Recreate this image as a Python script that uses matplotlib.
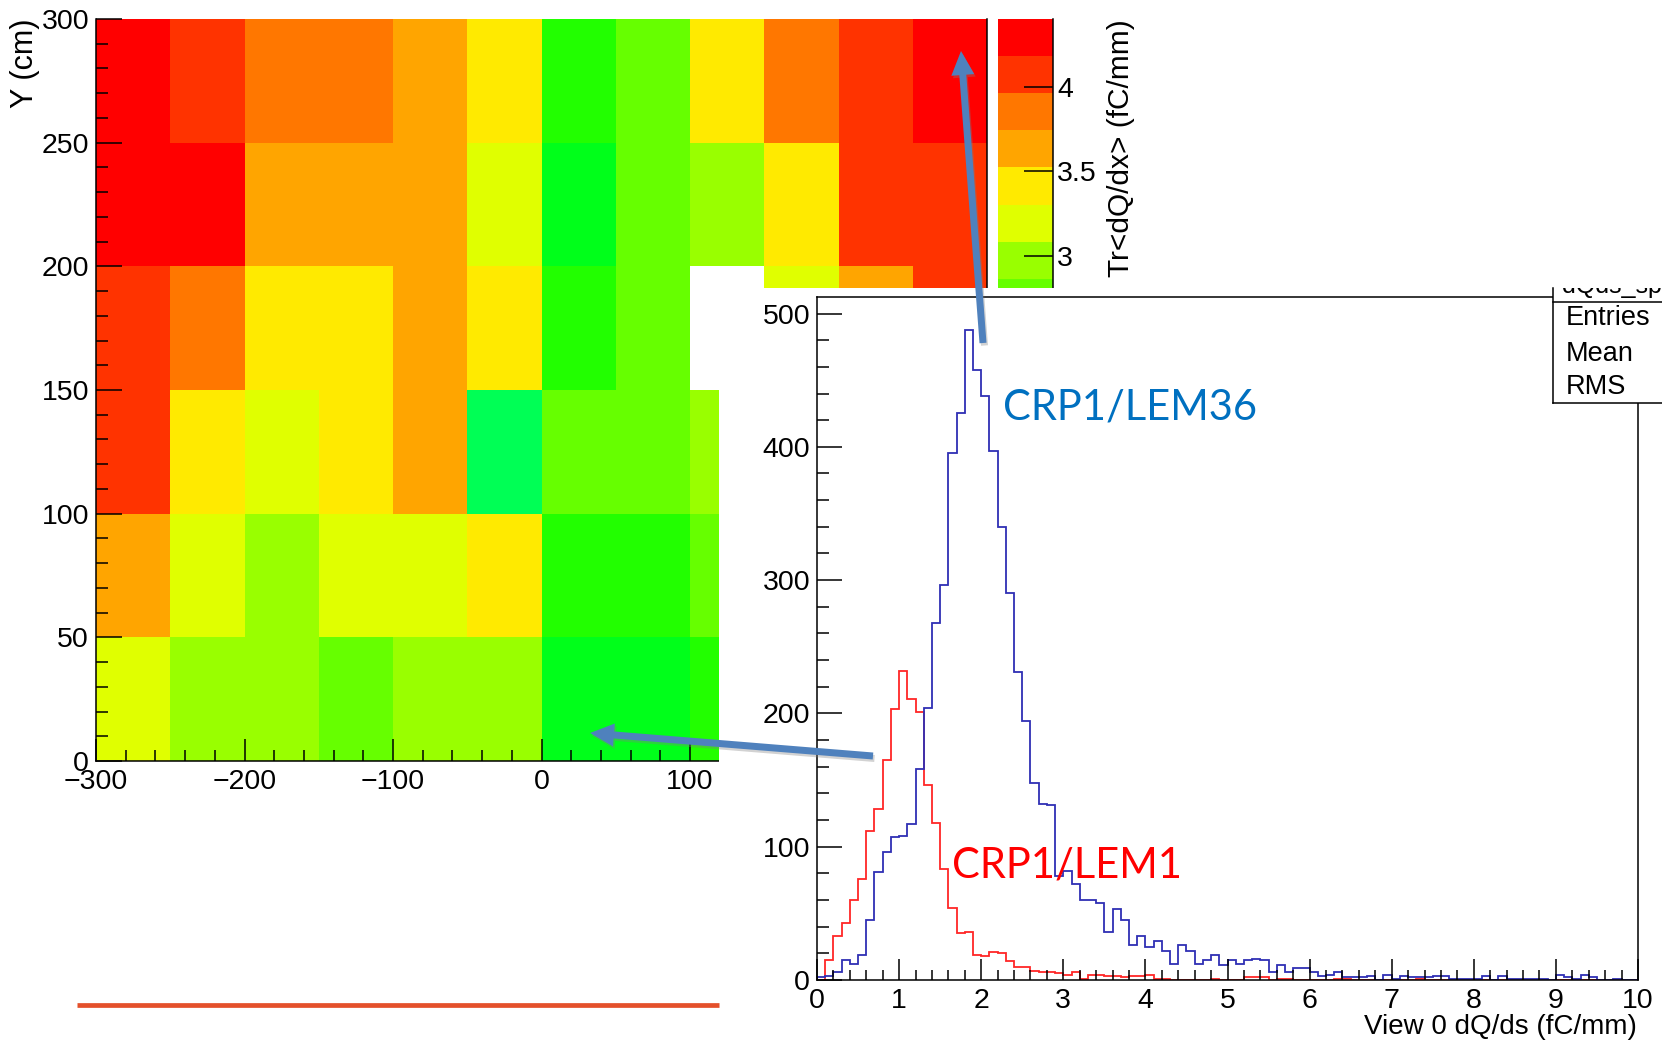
import numpy as np
import matplotlib
matplotlib.use("Agg")
import matplotlib.pyplot as plt
from matplotlib.colors import ListedColormap, BoundaryNorm
from matplotlib.patches import FancyArrow, Rectangle
from matplotlib.ticker import MultipleLocator, FuncFormatter

plt.rcParams["font.family"] = ["Liberation Sans", "DejaVu Sans"]
plt.rcParams["axes.unicode_minus"] = True

W, H = 1662, 1041

# ---------------- 2D map: truncated mean dQ/dx per 50 cm x 50 cm cell ----------------
x_edges = [-300, -250, -200, -150, -100, -50, 0, 50, 100, 150, 200, 250, 300]
y_edges = [0, 50, 100, 150, 200, 250, 300]
nan = np.nan
row_y0_50 = [3.19, 2.97, 2.97, 2.75, 2.97, 2.97, 2.31, 2.31, 2.53, nan, nan, nan]
row_y50_100 = [3.63, 3.19, 2.97, 3.19, 3.19, 3.41, 2.53, 2.53, 2.75, nan, nan, nan]
row_y100_150 = [4.07, 3.41, 3.19, 3.41, 3.63, 2.09, 2.75, 2.75, 2.97, nan, nan, nan]
row_y150_200 = [4.07, 3.85, 3.41, 3.41, 3.63, 3.41, 2.53, 2.75, nan, 3.19, 3.63, 4.07]
row_y200_250 = [4.30, 4.30, 3.63, 3.63, 3.63, 3.19, 2.31, 2.75, 2.97, 3.41, 4.07, 4.07]
row_y250_300 = [4.30, 4.07, 3.85, 3.85, 3.63, 3.41, 2.53, 2.75, 3.41, 3.85, 4.07, 4.30]

z_min, z_max = 0.0, 4.405
n_contours = 20
band_colors = ["#8000ff", "#5a00ff", "#2a00ff", "#0030ff", "#0070ff",
               "#00b0ff", "#00e8ff", "#00ffc8", "#00ff90", "#00ff55",
               "#00ff1a", "#22ff00", "#66ff00", "#99ff00", "#e0ff00",
               "#ffea00", "#ffa500", "#ff7700", "#ff3300", "#ff0000"]
cbar_ticks = [0, 0.5, 1, 1.5, 2, 2.5, 3, 3.5, 4]

# ---------------- 1D spectra: dQ/ds, 100 bins over 0..10 fC/mm ----------------
hist_range = (0.0, 10.0)
n_bins = 100
counts_lem1 = [0, 15, 33, 43, 60, 76, 112, 128, 165, 203,
               232, 211, 201, 146, 118, 83, 54, 35, 36, 19,
               18, 21, 20, 14, 10, 10, 7, 6, 6, 5,
               4, 6, 1, 4, 4, 3, 3, 2, 3, 3,
               4, 1, 1, 0, 0, 0, 0, 0, 1, 0,
               0, 0, 2, 2, 2, 0, 1, 1, 0, 0,
               0, 0, 0, 1, 1, 0, 0, 0, 0, 0,
               0, 0, 0, 1, 0, 0, 0, 0, 0, 0,
               0, 0, 0, 0, 0, 0, 0, 0, 0, 0,
               0, 0, 0, 0, 0, 0, 0, 0, 0, 0]
counts_lem36 = [2, 3, 6, 15, 12, 19, 45, 81, 96, 107,
                108, 117, 158, 204, 268, 296, 395, 425, 488, 458,
                438, 397, 340, 290, 231, 194, 148, 132, 131, 78,
                82, 72, 60, 60, 58, 36, 53, 45, 26, 33,
                25, 29, 22, 12, 26, 22, 12, 15, 19, 11,
                15, 12, 15, 16, 15, 6, 11, 6, 9, 9,
                6, 3, 4, 6, 2, 2, 2, 3, 0, 4,
                1, 3, 2, 2, 2, 3, 3, 1, 1, 1,
                1, 3, 0, 3, 1, 1, 1, 1, 1, 0,
                4, 2, 1, 4, 2, 0, 0, 1, 0, 0]
stat_names = ["Entries", "Mean", "RMS"]


def frac(left, top, right, bottom):
    """Pixel box (top-left origin) -> figure fraction rect."""
    return [left / W, 1 - bottom / H, (right - left) / W, (bottom - top) / H]


fig = plt.figure(figsize=(W / 100, H / 100), dpi=100)

levels = np.linspace(z_min, z_max, n_contours + 1)
cmap = ListedColormap(band_colors)
norm = BoundaryNorm(levels, cmap.N)

TICK_FS = 20.5

# ---- map ----
ax_map = fig.add_axes(frac(96, 19, 987, 761))
dqdx_map = np.array([row_y0_50, row_y50_100, row_y100_150,
                     row_y150_200, row_y200_250, row_y250_300])
ax_map.pcolormesh(x_edges, y_edges, np.ma.masked_invalid(dqdx_map),
                  cmap=cmap, norm=norm)
ax_map.set_xlim(x_edges[0], x_edges[-1])
ax_map.set_ylim(y_edges[0], y_edges[-1])
ax_map.xaxis.set_major_locator(MultipleLocator(100))
ax_map.xaxis.set_minor_locator(MultipleLocator(20))
ax_map.yaxis.set_major_locator(MultipleLocator(50))
ax_map.yaxis.set_minor_locator(MultipleLocator(10))
ax_map.tick_params(axis="x", which="major", direction="in", length=16,
                   width=1.1, labelsize=TICK_FS, pad=6)
ax_map.tick_params(axis="x", which="minor", direction="in", length=8, width=1.1)
ax_map.tick_params(axis="y", which="major", direction="in", length=18.5,
                   width=1.1, labelsize=TICK_FS, pad=5)
ax_map.tick_params(axis="y", which="minor", direction="in", length=8.5, width=1.1)
ax_map.spines["top"].set_visible(False)
for s in ("left", "bottom", "right"):
    ax_map.spines[s].set_linewidth(1.1)

# ---- palette axis ----
cax = fig.add_axes(frac(998, 19, 1053, 761))
band_mid = 0.5 * (levels[:-1] + levels[1:])
cax.pcolormesh([0, 1], levels, band_mid[:, None], cmap=cmap, norm=norm)
cax.set_xlim(0, 1)
cax.set_ylim(z_min, z_max)
cax.set_xticks([])
cax.yaxis.tick_right()
cax.set_yticks(cbar_ticks)
cax.yaxis.set_major_formatter(FuncFormatter(lambda v, p: f"{v:g}"))
cax.tick_params(axis="y", direction="in", length=21, width=1.1,
                labelsize=TICK_FS, pad=3)
for s in ("left", "top", "bottom"):
    cax.spines[s].set_visible(False)
cax.spines["right"].set_linewidth(1.1)

# ---- inset pad with the spectra ----
pad = fig.add_axes(frac(719, 288, 1700, 1041), zorder=3)
pad.set_facecolor("white")
pad.set_xticks([])
pad.set_yticks([])
for s in pad.spines.values():
    s.set_visible(False)

ax_h = fig.add_axes(frac(817, 297, 1638, 980), zorder=4)
edges = np.linspace(hist_range[0], hist_range[1], n_bins + 1)
ax_h.stairs(counts_lem1, edges, baseline=0, color="#ff2626", lw=1.3)
ax_h.stairs(counts_lem36, edges, baseline=0, color="#2f2fb4", lw=1.3)
ax_h.set_xlim(*hist_range)
ax_h.set_ylim(0, 1.05 * max(max(counts_lem36), max(counts_lem1)))
ax_h.xaxis.set_major_locator(MultipleLocator(1))
ax_h.xaxis.set_minor_locator(MultipleLocator(0.2))
ax_h.yaxis.set_major_locator(MultipleLocator(100))
ax_h.yaxis.set_minor_locator(MultipleLocator(20))
ax_h.tick_params(axis="x", which="major", direction="in", length=15,
                 width=1.1, labelsize=TICK_FS, pad=6)
ax_h.tick_params(axis="x", which="minor", direction="in", length=7.5, width=1.1)
ax_h.tick_params(axis="y", which="major", direction="in", length=18,
                 width=1.1, labelsize=TICK_FS, pad=5)
ax_h.tick_params(axis="y", which="minor", direction="in", length=8.5, width=1.1)
for s in ax_h.spines.values():
    s.set_linewidth(1.1)

# ---- overlay in pixel coordinates: labels, stats box, arrows, captions ----
ov = fig.add_axes([0, 0, 1, 1], zorder=10)
ov.set_xlim(0, W)
ov.set_ylim(H, 0)
ov.axis("off")

ov.text(25, 19, "Y (cm)", rotation=90, ha="center", va="top", fontsize=22)
ov.text(1121, 19, "Tr<dQ/dx> (fC/mm)", rotation=90, ha="center", va="top",
        fontsize=21.5)
ov.text(1637, 1027, "View 0 dQ/ds (fC/mm)", ha="right", va="center",
        fontsize=20)

# statistics box (partly outside the canvas)
ov.add_patch(Rectangle((1553, 288), 200, 115, facecolor="white",
                       edgecolor="none", zorder=2))
ov.plot([1553, 1553], [288, 403], color="black", lw=1.1, zorder=3)
ov.plot([1553, W], [403, 403], color="black", lw=1.1, zorder=3)
ov.plot([1553, W], [302, 302], color="black", lw=1.1, zorder=3)
for name, yy in zip(stat_names, [318, 354, 387]):
    ov.text(1566, yy, name, ha="left", va="center", fontsize=19.5, zorder=4)
title = ov.text(1562, 293, "dQds_spectrum_0", ha="left", va="baseline",
                fontsize=18, zorder=4, clip_on=True)
title.set_clip_path(Rectangle((1553, 288), 200, 14, transform=ov.transData))

# underline decoration
ov.plot([77, 719], [1005, 1005], color="#e4502b", lw=3.4,
        solid_capstyle="butt", zorder=1)

arrow_color = "#4f81bd"
for (x0, y0, x1, y1) in [(983, 343, 961, 51), (873, 756, 590, 733)]:
    ov.add_patch(FancyArrow(x0 + 1.5, y0 + 2.5, x1 - x0, y1 - y0, width=7,
                            head_width=23, head_length=24,
                            length_includes_head=True, color="#7f7f7f",
                            alpha=0.35, lw=0, zorder=5))
    ov.add_patch(FancyArrow(x0, y0, x1 - x0, y1 - y0, width=7,
                            head_width=23, head_length=24,
                            length_includes_head=True, color=arrow_color,
                            lw=0, zorder=6))

ov.text(1003, 420, "CRP1/LEM36", color="#0070c0", fontsize=30,
        family="Lato", va="baseline", ha="left", zorder=7)
ov.text(952, 877, "CRP1/LEM1", color="#ff0000", fontsize=30,
        family="Lato", va="baseline", ha="left", zorder=7)

fig.savefig("out.png", dpi=100)
